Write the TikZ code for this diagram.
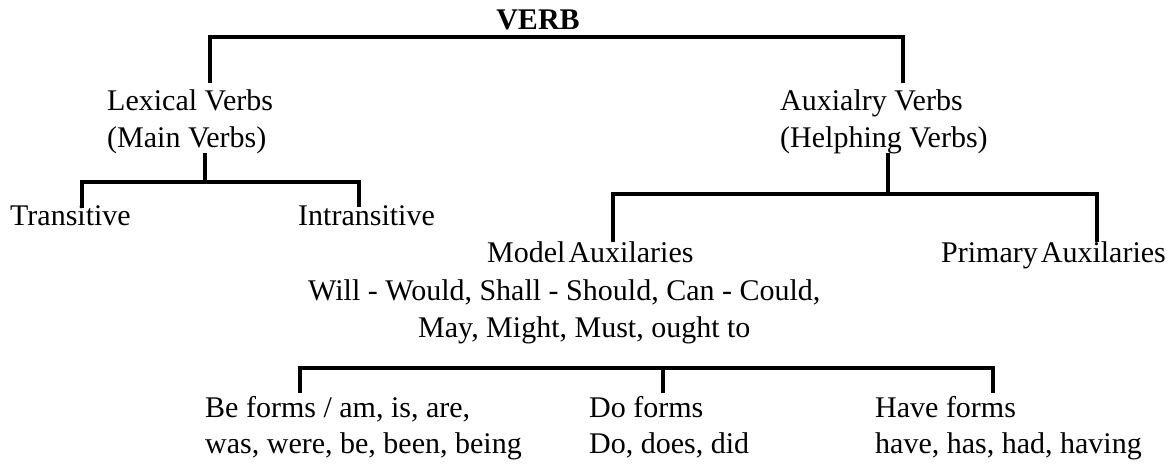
\documentclass[tikz,border=0pt]{standalone}
\usepackage{fontspec}
\setmainfont{Liberation Serif}
\begin{document}
\begin{tikzpicture}[x=1pt,y=-1pt,
  txt/.style={anchor=base west, inner sep=0pt, font=\fontsize{30}{36}\selectfont},
  title/.style={anchor=base, inner sep=0pt, font=\fontsize{30}{36}\selectfont\bfseries},
  br/.style={line width=3.2pt}]
\useasboundingbox (0,0) rectangle (1173,466);
% texts
\node[title] (verb) at (538,29) {VERB};
\node[txt] (lex1) at (107,110) {Lexical Verbs};
\node[txt] (lex2) at (107,147) {(Main Verbs)};
\node[txt] (tr) at (10,225) {Transitive};
\node[txt] (intr) at (298,225) {Intransitive};
\node[txt] (aux1) at (780,110) {Auxialry Verbs};
\node[txt] (aux2) at (780,147) {(Helphing Verbs)};
\node[txt] (mod1) at (487,262) {Model\kern3pt Auxilaries};
\node[txt] (mod2) at (308,300) {Will - Would, Shall - Should, Can - Could,};
\node[txt] (mod3) at (418,337) {May, Might, Must, ought to};
\node[txt] (prim) at (941,262) {Primary\kern3pt Auxilaries};
\node[txt] (be1) at (205,417) {Be forms / am, is, are,};
\node[txt] (be2) at (205,453) {was, were, be, been, being};
\node[txt] (do1) at (589,417) {Do forms};
\node[txt] (do2) at (589,453) {Do, does, did};
\node[txt] (hv1) at (875,417) {Have forms};
\node[txt] (hv2) at (875,453) {have, has, had, having};
% bracket points
\coordinate (j0) at (538,37);
\coordinate (lexTop) at (210,83);
\coordinate (auxTop) at (903,83);
\coordinate (lexBot) at (205,153);
\coordinate (j1) at (205,182);
\coordinate (trTop) at (82,208);
\coordinate (inTop) at (359,207);
\coordinate (auxBot) at (888,153);
\coordinate (j2) at (888,194);
\coordinate (modTop) at (613,242);
\coordinate (primTop) at (1097,242);
\coordinate (j3) at (663,368);
\coordinate (beTop) at (300,393);
\coordinate (doTop) at (663,393);
\coordinate (hvTop) at (993,393);
% connectors
\draw[br] (lexTop) |- (j0) -| (auxTop);
\draw[br] (lexBot) -- (j1);
\draw[br] (trTop) |- (j1) -| (inTop);
\draw[br] (auxBot) -- (j2);
\draw[br] (modTop) |- (j2) -| (primTop);
\draw[br] (beTop) |- (j3) -| (hvTop);
\draw[br] (doTop) -- (j3);
\end{tikzpicture}
\end{document}
